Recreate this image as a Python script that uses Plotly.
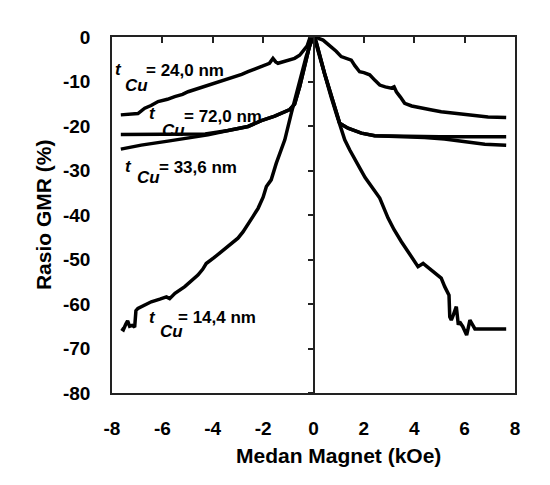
import plotly.graph_objects as go

# ---- data ----
x_24 = [-7.65, -7.3, -6.97, -6.7, -6.45, -6.17, -5.8, -5.51, -5.2, -4.98, -4.7, -4.45, -4.1, -3.79, -3.45,
        -3.13, -2.85, -2.6, -2.25, -1.94, -1.75, -1.61, -1.5, -1.41, -1.1, -0.75, -0.55, -0.42, -0.25, -0.15,
        0.0, 0.12, 0.2, 0.38, 0.55, 0.71, 0.9, 1.1, 1.3, 1.5, 1.65, 1.83, 2.0, 2.23, 2.45, 2.63, 2.85, 3.09,
        3.2, 3.29, 3.45, 3.62, 3.9, 4.28, 4.7, 5.07, 5.5, 6.0, 6.5, 6.93, 7.65]
y_24 = [-17.5, -17.4, -17.2, -16.0, -15.4, -14.5, -14.0, -13.4, -12.9, -12.3, -11.8, -11.2, -10.7, -10.0, -9.5,
        -8.9, -8.4, -7.8, -7.1, -6.3, -5.9, -4.8, -5.6, -5.9, -5.4, -4.8, -4.1, -3.3, -2.0, -0.3,
        0.0, 0.0, -0.3, -0.7, -1.5, -2.2, -3.2, -4.4, -4.8, -5.2, -6.5, -7.8, -8.0, -8.5, -9.8, -10.8, -11.2, -11.5,
        -11.2, -12.3, -13.5, -14.9, -15.5, -16.0, -16.4, -16.8, -17.1, -17.5, -17.8, -18.0, -18.1]

x_72 = [-7.65, -6.0, -4.98, -4.3, -3.39, -2.6, -2.07, -1.54, -0.94, -0.75, -0.55, -0.35, -0.15, 0.0,
        0.1, 0.44, 0.84, 1.04, 1.37, 1.9, 2.43, 3.5, 5.0, 7.65]
y_72 = [-21.9, -21.9, -21.9, -21.8, -21.0, -20.1, -18.8, -17.8, -16.3, -15.1, -11.2, -6.7, -1.8, 0.0,
        -1.0, -8.2, -15.7, -19.4, -20.5, -21.6, -22.2, -22.3, -22.4, -22.4]

x_33 = [-7.65, -6.84, -5.78, -4.85, -4.19, -3.39, -2.6, -2.07, -1.54, -0.94, -0.75, -0.55, -0.35, -0.15, 0.0,
        0.1, 0.44, 0.84, 1.04, 1.37, 1.9, 2.43, 3.2, 3.8, 4.41, 5.2, 5.74, 6.3, 6.8, 7.65]
y_33 = [-25.2, -24.3, -23.4, -22.5, -22.0, -21.0, -20.1, -18.8, -17.8, -16.3, -15.1, -11.2, -6.7, -1.8, 0.0,
        -1.0, -8.2, -15.7, -19.4, -20.5, -21.6, -22.2, -22.3, -22.4, -22.6, -22.9, -23.3, -23.8, -24.1, -24.3]

x_14 = [-7.63, -7.55, -7.45, -7.38, -7.3, -7.2, -7.1, -7.05, -6.97, -6.7, -6.44, -6.1, -5.84, -5.71, -5.5,
        -5.11, -4.85, -4.59, -4.4, -4.26, -3.95, -3.66, -3.3, -3.0, -2.8, -2.6, -2.4, -2.2, -2.0, -1.87,
        -1.68, -1.48, -1.28, -1.14, -0.88, -0.55, -0.29, -0.1, 0.0,
        0.1, 0.25, 0.44, 0.7, 0.95, 1.24, 1.44, 1.64, 1.85, 2.05, 2.3, 2.63, 2.96, 3.2, 3.49, 3.88, 4.15,
        4.35, 4.68, 5.07, 5.21, 5.34, 5.38, 5.41, 5.47, 5.55, 5.67, 5.75, 5.8, 5.93, 6.08, 6.14, 6.21, 6.3,
        6.41, 7.65]
y_14 = [-65.5, -65.8, -64.5, -63.8, -65.0, -64.8, -65.2, -61.5, -61.0, -60.3, -59.5, -58.9, -58.4, -58.8, -57.6,
        -56.1, -54.9, -53.5, -52.2, -50.9, -49.6, -48.2, -46.6, -45.2, -43.8, -41.9, -40.3, -38.5, -36.0, -33.6,
        -32.1, -28.4, -25.4, -23.1, -17.1, -9.7, -4.4, -1.2, 0.0,
        -1.5, -4.5, -8.6, -13.5, -18.0, -23.1, -25.4, -27.3, -29.6, -31.6, -33.5, -36.2, -40.7, -43.3, -46.0, -49.4, -51.6,
        -50.9, -52.4, -54.2, -56.1, -57.6, -58.0, -62.9, -63.6, -62.5, -60.6, -64.7, -64.0, -65.1, -67.0, -65.5, -63.6, -64.5,
        -65.6, -65.6]

x_ticks = [-8, -6, -4, -2, 0, 2, 4, 6, 8]
x_tick_text = ["-8", "-6", "-4", "-2", "0", "2", "4", "6", "8"]
y_ticks = [0, -10, -20, -30, -40, -50, -60, -70, -80]
y_tick_text = ["0", "-10", "-20", "-30", "-40", "-50", "-60", "-70", "-80"]

labels = [
    # (t x, t y, Cu x, Cu y, rest x, rest y, text)
    (-7.95, -7.2, -7.58, -10.9, -6.72, -7.6, "= 24,0 nm"),
    (-6.62, -17.3, -6.08, -20.9, -5.22, -17.9, "= 72,0 nm"),
    (-7.55, -29.2, -7.08, -31.6, -6.22, -29.3, "= 33,6 nm"),
    (-6.62, -63.0, -6.17, -66.1, -5.47, -63.0, "= 14,4 nm"),
]

assert len(x_24) == len(y_24) and len(x_72) == len(y_72)
assert len(x_33) == len(y_33) and len(x_14) == len(y_14)

FONT = "Liberation Sans, Arial, sans-serif"

fig = go.Figure()
for xs, ys in [(x_24, y_24), (x_72, y_72), (x_33, y_33), (x_14, y_14)]:
    fig.add_trace(go.Scatter(x=xs, y=ys, mode="lines",
                             line=dict(color="black", width=3.5),
                             showlegend=False, hoverinfo="skip"))

# dummy trace so the overlay axes are drawn
fig.add_trace(go.Scatter(x=[0], y=[0], xaxis="x2", yaxis="y2", mode="markers",
                         marker=dict(opacity=0), showlegend=False, hoverinfo="skip"))

ann = []
for tx, ty, cx, cy, rx, ry, txt in labels:
    ann.append(dict(x=tx, y=ty, text="<i>t</i>", showarrow=False, xanchor="left", yanchor="middle",
                    font=dict(family=FONT, size=17, color="black", weight="bold")))
    ann.append(dict(x=cx, y=cy, text="<i>Cu</i>", showarrow=False, xanchor="left", yanchor="middle",
                    font=dict(family=FONT, size=17, color="black", weight="bold")))
    ann.append(dict(x=rx, y=ry, text=txt, showarrow=False, xanchor="left", yanchor="middle",
                    font=dict(family=FONT, size=17, color="black", weight="bold")))

ann.append(dict(xref="paper", yref="paper", x=0.561, y=-0.176, text="Medan Magnet (kOe)",
                showarrow=False, xanchor="center", yanchor="middle",
                font=dict(family=FONT, size=21, color="black", weight="bold")))
ann.append(dict(xref="paper", yref="paper", x=-0.171, y=0.5, text="Rasio GMR (%)", textangle=-90,
                showarrow=False, xanchor="center", yanchor="middle",
                font=dict(family=FONT, size=21, color="black", weight="bold")))

fig.update_layout(
    width=550, height=485, autosize=False,
    margin=dict(l=112, r=35, t=37, b=92),
    paper_bgcolor="white", plot_bgcolor="white",
    annotations=ann,
    xaxis=dict(range=[-8, 8], tickvals=x_ticks, ticktext=x_tick_text, ticks="", showline=True, mirror=True,
               linecolor="#222", linewidth=1.5, showgrid=False, zeroline=False,
               ticklabelstandoff=17,
               tickfont=dict(family=FONT, size=19, color="black", weight="bold")),
    yaxis=dict(range=[-80, 0], tickvals=y_ticks, ticktext=y_tick_text, ticks="", showline=True, mirror=True,
               linecolor="#222", linewidth=1.5, showgrid=False, zeroline=False,
               ticklabelstandoff=16,
               tickfont=dict(family=FONT, size=19, color="black", weight="bold")),
    xaxis2=dict(overlaying="x", side="top", anchor="y", range=[-8, 8],
                tickvals=[-6, -4, -2, 2, 4, 6], ticks="inside", ticklen=6, tickwidth=1.5,
                tickcolor="#222", showticklabels=False, showline=False, showgrid=False, zeroline=False),
    yaxis2=dict(overlaying="y", anchor="free", position=0.5, side="left", range=[-80, 0],
                tickvals=y_ticks, ticks="outside", ticklen=5, tickwidth=1.5, tickcolor="#222",
                showticklabels=False, showline=True, linecolor="#222", linewidth=1.5,
                showgrid=False, zeroline=False),
)

fig.write_html("out.html")
